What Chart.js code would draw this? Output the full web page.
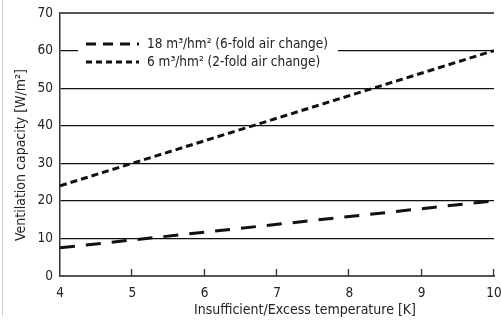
<!DOCTYPE html>
<html><head><meta charset="utf-8">
<script src="https://cdn.jsdelivr.net/npm/chart.js@4"></script>
<style>html,body{margin:0;padding:0;background:#fff;}canvas{display:block;}</style>
</head><body>
<canvas id="c" width="501" height="322"></canvas>
<script>
const temperatures = [4, 10];
const capacity18 = [7.5, 20];
const capacity6 = [24, 60];
const seriesLabels = ['18 m³/hm² (6-fold air change)', '6 m³/hm² (2-fold air change)'];
const xTicks = [4, 5, 6, 7, 8, 9, 10];
const yTicks = [0, 10, 20, 30, 40, 50, 60, 70];
const xTitle = 'Insufficient/Excess temperature [K]';
const yTitle = 'Ventilation capacity [W/m²]';

const FONT = "'DejaVu Sans Condensed','Liberation Sans Narrow',sans-serif";

const extras = {
  id: 'extras',
  beforeDraw(chart) {
    const ctx = chart.ctx;
    ctx.save();
    ctx.fillStyle = '#fff';
    ctx.fillRect(0, 0, chart.width, chart.height);
    ctx.strokeStyle = '#d0d0d0';
    ctx.lineWidth = 1;
    ctx.beginPath(); ctx.moveTo(2.5, 0); ctx.lineTo(2.5, 316); ctx.stroke();
    ctx.restore();
  },
  afterDraw(chart) {
    const ctx = chart.ctx;
    const xs = chart.scales.x, ys = chart.scales.y;
    ctx.save();
    // inward x ticks
    ctx.strokeStyle = '#333'; ctx.lineWidth = 1.3;
    const yb = ys.getPixelForValue(0);
    xTicks.forEach(v => {
      if (v === xTicks[0]) return;
      const px = Math.round(xs.getPixelForValue(v)) - 0.5;
      ctx.beginPath(); ctx.moveTo(px, yb); ctx.lineTo(px, yb - 7); ctx.stroke();
    });
    // axis titles
    ctx.fillStyle = '#222';
    ctx.font = '14px ' + FONT;
    ctx.textAlign = 'center';
    ctx.textBaseline = 'middle';
    ctx.fillText(xTitle, 305, 310);
    ctx.save();
    ctx.translate(21, 155);
    ctx.rotate(-Math.PI / 2);
    ctx.fillText(yTitle, 0, 0);
    ctx.restore();
    // legend
    ctx.fillStyle = '#fff';
    ctx.fillRect(78, 36, 260, 34);
    const rows = [44, 62];
    chart.data.datasets.forEach((ds, i) => {
      ctx.strokeStyle = ds.borderColor;
      ctx.lineWidth = ds.borderWidth;
      ctx.setLineDash(i === 0 ? [10, 7] : [6, 4]);
      ctx.beginPath(); ctx.moveTo(86, rows[i]); ctx.lineTo(139, rows[i]); ctx.stroke();
      ctx.setLineDash([]);
      ctx.fillStyle = '#222';
      ctx.font = '13.5px ' + FONT;
      ctx.textBaseline = 'middle';
      ctx.textAlign = 'left';
      ctx.fillText(ds.label, 147, rows[i]);
    });
    ctx.restore();
  }
};

new Chart(document.getElementById('c'), {
  type: 'line',
  data: {
    datasets: [
      { label: seriesLabels[0], data: temperatures.map((t, i) => ({x: t, y: capacity18[i]})),
        borderColor: '#111', borderWidth: 3, borderDash: [15, 11], pointRadius: 0, fill: false },
      { label: seriesLabels[1], data: temperatures.map((t, i) => ({x: t, y: capacity6[i]})),
        borderColor: '#111', borderWidth: 3, borderDash: [7, 4], pointRadius: 0, fill: false }
    ]
  },
  options: {
    responsive: false,
    devicePixelRatio: 1,
    animation: false,
    layout: { padding: { left: 0, right: 7, top: 13, bottom: 0 } },
    plugins: { legend: { display: false }, tooltip: { enabled: false } },
    scales: {
      x: {
        type: 'linear', min: 4, max: 10,
        afterBuildTicks(s) { s.ticks = xTicks.map(v => ({value: v})); },
        afterFit(s) { s.height = 46; s.paddingLeft = 0; s.paddingRight = 0; },
        grid: { display: true, drawOnChartArea: false, drawTicks: false },
        border: { display: true, color: '#555', width: 2 },
        ticks: { color: '#222', font: { family: FONT, size: 13.5 }, padding: 9, maxRotation: 0 }
      },
      y: {
        type: 'linear', min: 0, max: 70,
        afterBuildTicks(s) { s.ticks = yTicks.map(v => ({value: v})); },
        afterFit(s) { s.width = 60; s.paddingTop = 0; s.paddingBottom = 0; },
        grid: {
          drawTicks: false,
          color: ctx => ctx.tick.value === 0 ? 'rgba(0,0,0,0)' : (ctx.tick.value === 70 ? '#555' : '#111'),
          lineWidth: ctx => ctx.tick.value === 70 ? 2 : 1.2
        },
        border: { display: true, color: '#333', width: 1.5 },
        ticks: { color: '#222', font: { family: FONT, size: 13.5 }, padding: 7 }
      }
    }
  },
  plugins: [extras]
});
</script>
</body></html>
